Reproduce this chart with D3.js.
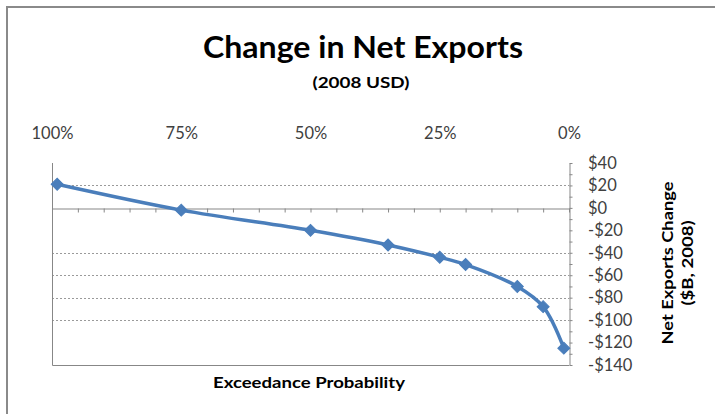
<!DOCTYPE html>
<html>
<head>
<meta charset="utf-8">
<script src="https://cdn.jsdelivr.net/npm/d3@7"></script>
<style>
  html, body { margin: 0; padding: 0; background: #fff; }
  svg { display: block; font-family: Lato, "Open Sans", sans-serif; }
</style>
</head>
<body>
<svg id="chart" width="715" height="414"></svg>
<script>
// Exceedance probability (%) and the matching change in net exports ($B, 2008)
const probabilities = [99, 75, 50, 35, 25, 20, 10, 5, 1];
const netExportsChange = [21, -2, -20, -33, -44, -50.5, -70, -88, -125];

// Axis tick labels
const xTickLabels = [100, 75, 50, 25, 0];
const yTickLabels = [40, 20, 0, -20, -40, -60, -80, -100, -120, -140];
const gridValues = [20, -40, -60, -80, -100];

const svg = d3.select("#chart");
const W = 715, H = 414;
const plot = { left: 52, right: 569, top: 163, bottom: 365 };

const x = d3.scaleLinear().domain([100, 0]).range([plot.left, plot.right]);
const y = d3.scaleLinear().domain([40, -140]).range([plot.top, plot.bottom]);

const axisGrey = "#878787";
const labelColor = "#404040";

// outer chart frame
svg.append("rect")
  .attr("x", 7).attr("y", 7).attr("width", W + 20).attr("height", H + 20)
  .attr("fill", "none").attr("stroke", "#8a8a8a").attr("stroke-width", 2);

// titles
svg.append("text")
  .attr("x", 363).attr("y", 58).attr("text-anchor", "middle")
  .attr("font-size", 31).attr("font-weight", 700).attr("fill", "#000")
  .attr("textLength", 320).attr("lengthAdjust", "spacingAndGlyphs")
  .text("Change in Net Exports");
svg.append("text")
  .attr("x", 361).attr("y", 87.5).attr("text-anchor", "middle")
  .attr("font-size", 16).attr("font-weight", 700).attr("fill", "#000")
  .attr("textLength", 97).attr("lengthAdjust", "spacingAndGlyphs")
  .text("(2008 USD)");

// dotted gridlines
svg.append("g").selectAll("line").data(gridValues).join("line")
  .attr("x1", plot.left).attr("x2", plot.right)
  .attr("y1", d => Math.round(y(d)) + 0.5).attr("y2", d => Math.round(y(d)) + 0.5)
  .attr("stroke", "#9a9a9a").attr("stroke-width", 1)
  .attr("stroke-dasharray", "2,2");

// left and bottom plot borders
svg.append("path")
  .attr("d", `M${plot.left + 0.5},${plot.top}V${plot.bottom + 0.5}H${plot.right}`)
  .attr("fill", "none").attr("stroke", axisGrey).attr("stroke-width", 1);

// horizontal axis at $0 with minor ticks every 5%
const xMinor = svg.append("g")
  .attr("transform", `translate(0,${Math.round(y(0)) + 0.5})`)
  .call(d3.axisBottom(x).tickValues(d3.range(0, 101, 5)).tickSize(4).tickSizeOuter(0).tickFormat(""));
xMinor.select(".domain").attr("stroke", axisGrey);
xMinor.selectAll(".tick line").attr("stroke", axisGrey);

// probability labels along the top
const xTop = svg.append("g")
  .attr("transform", "translate(0,138.5)")
  .call(d3.axisTop(x).tickValues(xTickLabels).tickSize(0).tickPadding(0).tickFormat(d => d + "%"));
xTop.select(".domain").remove();
xTop.selectAll("text")
  .attr("font-family", "Lato, sans-serif").attr("font-size", 16.5).attr("fill", labelColor);

// right value axis
const yMinor = svg.append("g")
  .attr("transform", `translate(${plot.right + 0.5},0)`)
  .call(d3.axisRight(y).tickValues(d3.range(-140, 41, 10)).tickSize(3).tickSizeOuter(0).tickFormat(""));
yMinor.select(".domain").attr("stroke", axisGrey);
yMinor.selectAll(".tick line").attr("stroke", axisGrey);

const yLabels = svg.append("g")
  .attr("transform", `translate(${plot.right},0)`)
  .call(d3.axisRight(y).tickValues(yTickLabels).tickSize(0).tickPadding(19)
    .tickFormat(d => (d < 0 ? "-" : "") + "$" + Math.abs(d)));
yLabels.select(".domain").remove();
yLabels.selectAll("text")
  .attr("font-family", "Lato, sans-serif").attr("font-size", 16.5).attr("fill", labelColor);

// axis titles
svg.append("text")
  .attr("x", 309).attr("y", 387.5).attr("text-anchor", "middle")
  .attr("font-size", 16).attr("font-weight", 700).attr("fill", "#000")
  .attr("textLength", 192).attr("lengthAdjust", "spacingAndGlyphs")
  .text("Exceedance Probability");

const yTitle = svg.append("g").attr("transform", "translate(0,263) rotate(-90)");
yTitle.append("text")
  .attr("x", 0).attr("y", 673).attr("text-anchor", "middle")
  .attr("font-size", 16).attr("font-weight", 700).attr("fill", "#000")
  .attr("textLength", 163).attr("lengthAdjust", "spacingAndGlyphs")
  .text("Net Exports Change");
yTitle.append("text")
  .attr("x", 0).attr("y", 693).attr("text-anchor", "middle")
  .attr("font-size", 16).attr("font-weight", 700).attr("fill", "#000")
  .attr("textLength", 85).attr("lengthAdjust", "spacingAndGlyphs")
  .text("($B, 2008)");

// series line and markers
const points = probabilities.map((p, i) => [p, netExportsChange[i]]);
const blue = "#4a7ebb";

svg.append("path")
  .datum(points)
  .attr("fill", "none").attr("stroke", blue).attr("stroke-width", 3.5)
  .attr("stroke-linejoin", "round").attr("stroke-linecap", "round")
  .attr("d", d3.line().x(d => x(d[0])).y(d => y(d[1])).curve(d3.curveCatmullRom.alpha(0.5)));

const diamond = d3.symbol().type(d3.symbolSquare).size(72);
svg.append("g").selectAll("path").data(points).join("path")
  .attr("transform", d => `translate(${x(d[0])},${y(d[1])}) rotate(45)`)
  .attr("d", diamond)
  .attr("fill", blue).attr("stroke", blue).attr("stroke-width", 1);
</script>
</body>
</html>
